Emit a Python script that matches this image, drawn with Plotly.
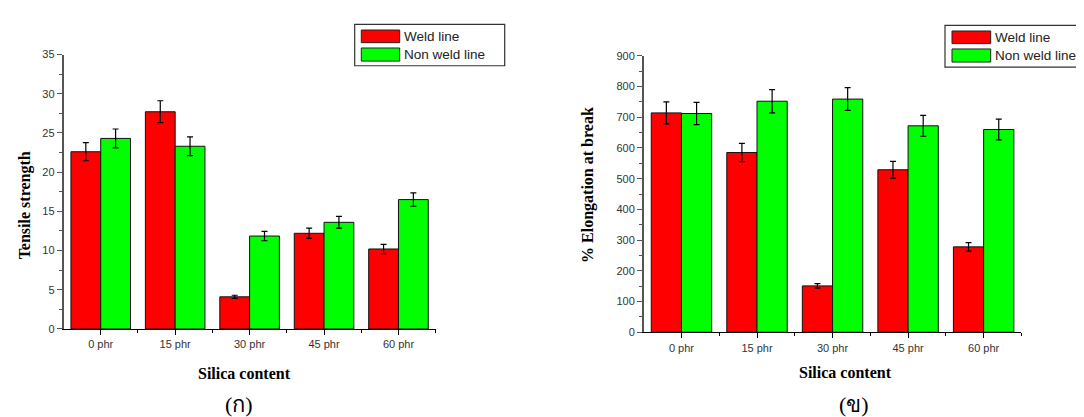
import plotly.graph_objects as go

W, H = 1084, 417

categories = ["0 phr", "15 phr", "30 phr", "45 phr", "60 phr"]
positions = [0, 1, 2, 3, 4]

tensile_weld = [22.6, 27.7, 4.1, 12.2, 10.2]
tensile_weld_err = [1.15, 1.4, 0.2, 0.65, 0.58]
tensile_nonweld = [24.3, 23.3, 11.85, 13.6, 16.5]
tensile_nonweld_err = [1.2, 1.2, 0.6, 0.75, 0.85]

elong_weld = [714, 585, 151, 529, 278]
elong_weld_err = [36, 30, 7, 27, 14]
elong_nonweld = [712, 752, 759, 672, 660]
elong_nonweld_err = [36, 38, 37, 34, 34]

RED = "#FF0000"
GREEN = "#00FF00"


def px(x):
    return x / W


def py(y):
    return 1 - y / H


def bar(x, y, err, color, name, xa, ya):
    return go.Bar(
        x=x, y=y, name=name, xaxis=xa, yaxis=ya,
        marker=dict(color=color, line=dict(color="#111111", width=1)),
        error_y=dict(type="data", array=err, visible=True, color="#000000",
                     thickness=1.2, width=3),
        showlegend=False,
    )


fig = go.Figure()
fig.add_trace(bar(positions, tensile_weld, tensile_weld_err, RED, "Weld line", "x", "y"))
fig.add_trace(bar(positions, tensile_nonweld, tensile_nonweld_err, GREEN, "Non weld line", "x", "y"))
fig.add_trace(bar(positions, elong_weld, elong_weld_err, RED, "Weld line", "x2", "y2"))
fig.add_trace(bar(positions, elong_nonweld, elong_nonweld_err, GREEN, "Non weld line", "x2", "y2"))

tickfont = dict(family="Liberation Sans, Arial", size=11, color="#333333")

xcommon = dict(
    range=[-0.5, 4.5], tickvals=positions, ticktext=categories,
    showline=True, linecolor="#000000", linewidth=1.3,
    ticks="outside", ticklen=5, tickwidth=1.2, tickcolor="#000000",
    minor=dict(tickvals=[0.5, 1.5, 2.5, 3.5, 4.5], ticks="outside", ticklen=3,
               tickwidth=1.2, tickcolor="#000000"),
    showgrid=False, zeroline=False, tickfont=tickfont, fixedrange=True,
)
ycommon = dict(
    showline=True, linecolor="#555555", linewidth=1.5,
    ticks="outside", ticklen=5, tickwidth=1.2, tickcolor="#555555",
    showgrid=False, zeroline=False, tickfont=tickfont, fixedrange=True,
)

fig.update_layout(
    width=W, height=H,
    margin=dict(l=0, r=0, t=0, b=0),
    paper_bgcolor="white", plot_bgcolor="white",
    barmode="group", bargap=0.2, bargroupgap=0,
    showlegend=False,
    xaxis=dict(domain=[px(55.5), px(427.7)], anchor="y", **xcommon),
    yaxis=dict(domain=[py(324.3), py(41.7)], anchor="x", range=[0, 35], dtick=5,
               minor=dict(dtick=2.5, ticks="outside", ticklen=3, tickwidth=1.2,
                          tickcolor="#555555"),
               **ycommon),
    xaxis2=dict(domain=[px(635.7), px(1013.4)], anchor="y2", **xcommon),
    yaxis2=dict(domain=[py(327.7), py(43)], anchor="x2", range=[0, 900], dtick=100,
                minor=dict(dtick=50, ticks="outside", ticklen=3, tickwidth=1.2,
                           tickcolor="#555555"),
                **ycommon),
)

titlefont = dict(family="Liberation Serif, Times New Roman", size=16, color="#000000")
bigfont = dict(family="Liberation Serif, Noto Sans, serif", size=22, color="#000000")

annotations = [
    dict(text="<b>Tensile strength</b>", x=px(17), y=py(197), textangle=-90, font=titlefont),
    dict(text="<b>% Elongation at break</b>", x=px(580), y=py(176), textangle=-90, font=titlefont),
    dict(text="<b>Silica content</b>", x=px(236.5), y=py(370.5), font=titlefont),
    dict(text="<b>Silica content</b>", x=px(837.3), y=py(369.5), font=titlefont),
    dict(text="(ก)", x=px(231), y=py(402), font=bigfont),
    dict(text="(ข)", x=px(845.5), y=py(402), font=bigfont),
]

shapes = []
legfont = dict(family="Liberation Sans, Arial", size=13.5, color="#222222")


def legend(x0, x1, y0, y1, sx0, sx1, tx):
    shapes.append(dict(type="rect", xref="paper", yref="paper",
                       x0=px(x0), x1=px(x1), y0=py(y1), y1=py(y0),
                       line=dict(color="#333333", width=1.2), fillcolor="white"))
    for (cy0, cy1, color, label) in [(16.5, 29.5, RED, "Weld line"), (35, 48.5, GREEN, "Non weld line")]:
        shapes.append(dict(type="rect", xref="paper", yref="paper",
                           x0=px(sx0), x1=px(sx1), y0=py(cy1 + (y0 - 10.7)), y1=py(cy0 + (y0 - 10.7)),
                           line=dict(color="#222222", width=1), fillcolor=color))
        annotations.append(dict(text=label, x=px(tx), y=py((cy0 + cy1) / 2 + (y0 - 10.7)),
                                xanchor="left", yanchor="middle", font=legfont))


legend(346.7, 496.7, 10.7, 53.3, 353.3, 391.7, 394)
legend(937, 1083, 11.7, 54.7, 944, 982.7, 985)

for a in annotations:
    a.setdefault("xref", "paper")
    a.setdefault("yref", "paper")
    a.setdefault("showarrow", False)
    a.setdefault("xanchor", "center")
    a.setdefault("yanchor", "middle")

fig.update_layout(annotations=annotations, shapes=shapes)

fig.write_html("out.html")
